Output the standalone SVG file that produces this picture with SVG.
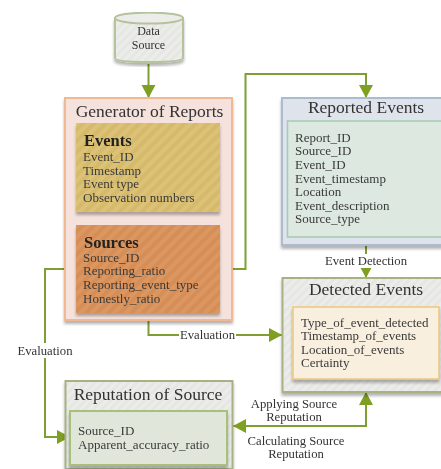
<svg xmlns="http://www.w3.org/2000/svg" width="441" height="469" viewBox="0 0 441 469">
<style>
text{font-family:"Liberation Serif","DejaVu Serif",serif;fill:#3a3a3a}
.t{font-size:13px}
.h{font-size:17.5px;fill:#333}
.b{font-size:16.5px;font-weight:bold;fill:#222}
.f{font-size:12.700px;fill:#333;text-anchor:middle}
.d{font-size:12px;fill:#333;text-anchor:middle}
.c{fill:none;stroke:#7f9f35;stroke-width:2}
.s{filter:url(#sh)}
.m{text-anchor:middle}
</style>
<defs>
<filter id="soft" x="0" y="0" width="100%" height="100%"><feGaussianBlur stdDeviation="0.4"/></filter>
<filter id="sh" x="-10%" y="-10%" width="120%" height="120%"><feGaussianBlur in="SourceAlpha" stdDeviation="1.6"/><feOffset dx="0" dy="2.5"/><feComponentTransfer><feFuncA type="linear" slope="0.3"/></feComponentTransfer><feMerge><feMergeNode/><feMergeNode in="SourceGraphic"/></feMerge></filter>
<pattern id="hy" width="8" height="8" patternUnits="userSpaceOnUse" patternTransform="rotate(45)"><rect width="8" height="8" fill="#dcc277"/><rect width="4" height="8" fill="#d6ba6c"/></pattern>
<pattern id="ho" width="8" height="8" patternUnits="userSpaceOnUse" patternTransform="rotate(45)"><rect width="8" height="8" fill="#dc9760"/><rect width="4" height="8" fill="#d68e58"/></pattern>
<pattern id="hg" width="6" height="6" patternUnits="userSpaceOnUse" patternTransform="rotate(45)"><rect width="6" height="6" fill="#ececea"/><rect width="3" height="6" fill="#e6e7e3"/></pattern>
<marker id="a" markerUnits="userSpaceOnUse" markerWidth="15" markerHeight="15" refX="13" refY="7" orient="auto"><path d="M0 0L13 7L0 14Z" fill="#7f9f20"/></marker>
</defs>
<g filter="url(#soft)">
<g id="connectors">
<path class="c" d="M148.500 64V98" marker-end="url(#a)"/>
<path class="c" d="M220 269H245.500V74H366V98" marker-end="url(#a)"/>
<path class="c" d="M76 269H45V437H70" marker-end="url(#a)"/>
<path class="c" d="M148.500 320V335H282" marker-end="url(#a)"/>
<path class="c" d="M366 245V278" marker-end="url(#a)"/>
<path class="c" d="M366 392V426H233" marker-end="url(#a)"/>
<path class="c" d="M366 426V392" marker-end="url(#a)"/>
<rect x="321" y="254" width="90" height="14" fill="#fff"/>
<rect x="179" y="328" width="57" height="14" fill="#fff"/>
<rect x="16" y="343" width="60" height="15" fill="#fff"/>
<text class="f" x="366" y="265">Event Detection</text>
<text class="f" x="207.500" y="339">Evaluation</text>
<text class="f" x="45" y="355">Evaluation</text>
<text class="f" x="294" y="408">Applying Source</text>
<text class="f" x="294" y="421">Reputation</text>
<text class="f" x="296" y="445">Calculating Source</text>
<text class="f" x="296" y="458">Reputation</text>
</g>
<g id="data-source">
<path class="s" d="M115 18V58Q115 62 148 62Q183 62 183 58V18Z" fill="url(#hg)" stroke="#b5c29a" stroke-width="2"/>
<ellipse cx="149" cy="18" rx="34" ry="5.500" fill="#ececea" stroke="#b5c29a" stroke-width="2"/>
<text class="d" x="148.500" y="35">Data</text>
<text class="d" x="148.500" y="49">Source</text>
</g>
<g id="generator-of-reports">
<rect class="s" x="65" y="98" width="167" height="222" fill="#f6e2dc" stroke="#f0b993" stroke-width="2"/>
<text class="h m" x="149.500" y="117">Generator of Reports</text>
<g id="events">
<rect class="s" x="76" y="123" width="144" height="89" fill="url(#hy)"/>
<text class="b" x="84" y="146">Events</text>
<text class="t" x="83" y="161">Event_ID</text>
<text class="t" x="83" y="175">Timestamp</text>
<text class="t" x="83" y="188">Event type</text>
<text class="t" x="83" y="202">Observation numbers</text>
</g>
<g id="sources">
<rect class="s" x="76" y="225" width="144" height="88" fill="url(#ho)"/>
<text class="b" x="84" y="248">Sources</text>
<text class="t" x="83" y="262">Source_ID</text>
<text class="t" x="83" y="275">Reporting_ratio</text>
<text class="t" x="83" y="289">Reporting_event_type</text>
<text class="t" x="83" y="303">Honestly_ratio</text>
</g>
</g>
<g id="reported-events">
<rect class="s" x="282" y="98" width="160" height="147" fill="#dfe3ec" stroke="#aabdd0" stroke-width="2"/>
<text class="h m" x="366" y="113">Reported Events</text>
<rect x="287.500" y="121" width="155" height="116" fill="#dde8e0" stroke="#a5cbb0" stroke-width="1.500"/>
<text class="t" x="295" y="142">Report_ID</text>
<text class="t" x="295" y="155">Source_ID</text>
<text class="t" x="295" y="169">Event_ID</text>
<text class="t" x="295" y="183">Event_timestamp</text>
<text class="t" x="295" y="196">Location</text>
<text class="t" x="295" y="210">Event_description</text>
<text class="t" x="295" y="223">Source_type</text>
</g>
<g id="detected-events">
<rect class="s" x="282.500" y="278" width="160" height="114" fill="url(#hg)" stroke="#a6b284" stroke-width="2"/>
<text class="h m" x="366" y="295">Detected Events</text>
<rect class="s" x="293" y="307" width="146" height="72" fill="#f8efdf" stroke="#ecc77f" stroke-width="1.500"/>
<text class="t" x="301" y="327">Type_of_event_detected</text>
<text class="t" x="301" y="340">Timestamp_of_events</text>
<text class="t" x="301" y="354">Location_of_events</text>
<text class="t" x="301" y="367">Certainty</text>
</g>
<g id="reputation-of-source">
<rect class="s" x="65.500" y="381" width="167" height="88" fill="url(#hg)" stroke="#a6b284" stroke-width="2"/>
<text class="h m" x="148" y="400">Reputation of Source</text>
<rect class="s" x="70" y="411" width="157" height="54" fill="#e1e6da" stroke="#a9c07a" stroke-width="2"/>
<text class="t" x="78" y="435">Source_ID</text>
<text class="t" x="78" y="449">Apparent_accuracy_ratio</text>
</g>
</g>
</svg>
